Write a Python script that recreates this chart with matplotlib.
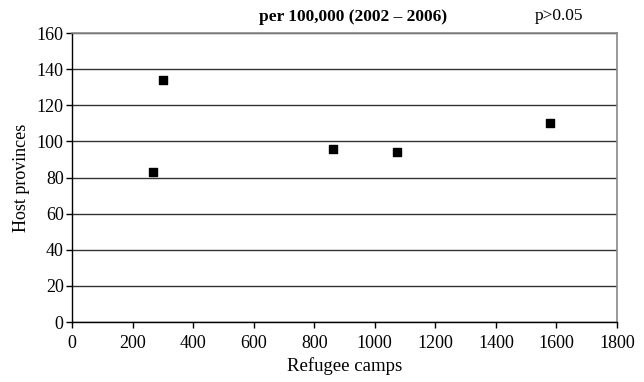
import matplotlib
matplotlib.use("Agg")
import matplotlib.pyplot as plt

# Incidence per 100,000: refugee camps vs host provinces
camps = [267, 300, 862, 1073, 1579]
hosts = [83, 134, 96, 94, 110]

x_ticks = list(range(0, 1801, 200))
y_ticks = list(range(0, 161, 20))

plt.rcParams["font.family"] = ["Liberation Serif", "DejaVu Serif"]

fig = plt.figure(figsize=(6.44, 3.82), dpi=100)
ax = fig.add_axes([0.1118, 0.157, 0.8462, 0.7566])

ax.scatter(camps, hosts, marker="s", s=40, color="black", zorder=3)

ax.set_xlim(0, 1800)
ax.set_ylim(0, 160)
ax.set_xticks(x_ticks)
ax.set_yticks(y_ticks)
ax.yaxis.grid(True, color="#333333", lw=1.0)
ax.set_axisbelow(True)

for side in ("top", "right"):
    ax.spines[side].set_color("#888888")
    ax.spines[side].set_linewidth(1.2)
for side in ("left", "bottom"):
    ax.spines[side].set_color("black")
    ax.spines[side].set_linewidth(1.0)

ax.tick_params(direction="out", length=4, width=1, labelsize=13, pad=2)
ax.tick_params(axis="x", pad=5)
ax.set_xlabel("Refugee camps", fontsize=13.5, labelpad=4)
ax.set_ylabel("Host provinces", fontsize=13, labelpad=5)

fig.text(0.548, 0.955, "per 100,000 (2002 \u2013 2006)", ha="center", va="center",
         fontsize=12.5, fontweight="bold")
fig.text(0.868, 0.958, "p>0.05", ha="center", va="center", fontsize=12.5)

plt.savefig("out.png", dpi=100)
plt.close()
